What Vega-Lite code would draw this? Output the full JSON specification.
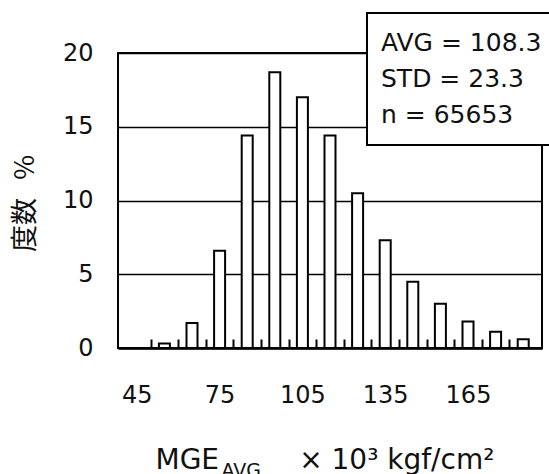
{
  "$schema": "https://vega.github.io/schema/vega-lite/v6.json",
  "width": 424,
  "height": 295,
  "autosize": {"type": "none"},
  "padding": {"left": 118, "top": 53, "right": 7, "bottom": 126},
  "background": "white",
  "config": {
    "view": {"stroke": "black", "strokeWidth": 2},
    "font": "DejaVu Sans",
    "legend": {"strokeWidth": 2}
  },
  "datasets": {
    "bins": [
      {"mge": 55, "pct": 0.3},
      {"mge": 65, "pct": 1.7},
      {"mge": 75, "pct": 6.6},
      {"mge": 85, "pct": 14.4},
      {"mge": 95, "pct": 18.7},
      {"mge": 105, "pct": 17.0},
      {"mge": 115, "pct": 14.4},
      {"mge": 125, "pct": 10.5},
      {"mge": 135, "pct": 7.3},
      {"mge": 145, "pct": 4.5},
      {"mge": 155, "pct": 3.0},
      {"mge": 165, "pct": 1.8},
      {"mge": 175, "pct": 1.1},
      {"mge": 185, "pct": 0.6}
    ],
    "stats": [
      {"stat": "AVG = 108.3"},
      {"stat": "STD = 23.3"},
      {"stat": "n = 65653"}
    ]
  },
  "layer": [
    {
      "data": {"name": "bins"},
      "mark": {"type": "bar", "fill": "white", "stroke": "black", "strokeWidth": 2, "width": 11},
      "encoding": {
        "x": {
          "field": "mge",
          "type": "quantitative",
          "scale": {"domain": [40, 190], "nice": false, "zero": false},
          "axis": {
            "orient": "bottom",
            "values": [45, 50, 60, 70, 75, 80, 90, 100, 105, 110, 120, 130, 135, 140, 150, 160, 165, 170, 180],
            "labelExpr": "datum.value % 10 == 0 ? '' : datum.label",
            "labelFont": "DejaVu Sans",
            "labelFontSize": 24,
            "labelColor": "#111111",
            "labelPadding": 44,
            "labelOverlap": false,
            "labelFlush": false,
            "ticks": true,
            "tickSize": -9,
            "tickWidth": 2,
            "tickColor": "black",
            "tickOpacity": {"condition": {"test": "datum.value % 10 != 0", "value": 0}, "value": 1},
            "domain": true,
            "domainColor": "black",
            "domainWidth": 2.5,
            "grid": false,
            "title": "MGE\u00a0\u00a0\u00a0\u00a0\u00a0\u00a0\u00a0\u00a0\u00a0× 10³ kgf/cm²",
            "titleFont": "DejaVu Sans",
            "titleFontSize": 28,
            "titleFontWeight": "normal",
            "titleColor": "#111111",
            "titleAlign": "left",
            "titleX": 37,
            "titleY": 120,
            "titleBaseline": "alphabetic"
          }
        },
        "y": {
          "field": "pct",
          "type": "quantitative",
          "scale": {"domain": [0, 20], "nice": false},
          "axis": {
            "values": [0, 5, 10, 15, 20],
            "grid": true,
            "gridColor": "black",
            "gridWidth": 1.5,
            "ticks": false,
            "tickSize": 0,
            "domain": false,
            "labelFont": "DejaVu Sans",
            "labelFontSize": 24,
            "labelPadding": 25,
            "labelColor": "#111111",
            "title": "度数\u00a0\u00a0\u00a0%",
            "titleFont": "Noto Sans CJK JP",
            "titleFontSize": 27,
            "titleFontWeight": "normal",
            "titleColor": "#111111",
            "titleAngle": -90,
            "titleX": -93,
            "titleY": 150,
            "titleAlign": "center",
            "titleBaseline": "middle"
          }
        }
      }
    },
    {
      "data": {"name": "bins"},
      "mark": {"type": "point", "opacity": 0},
      "encoding": {
        "x": {
          "field": "mge",
          "type": "quantitative",
          "axis": {
            "orient": "bottom",
            "labels": false,
            "ticks": false,
            "domain": false,
            "grid": false,
            "title": "AVG",
            "titleFont": "DejaVu Sans",
            "titleFontSize": 19,
            "titleFontWeight": "normal",
            "titleColor": "#111111",
            "titleAlign": "left",
            "titleX": 103,
            "titleY": 128,
            "titleBaseline": "alphabetic"
          }
        }
      }
    },
    {
      "data": {"name": "stats"},
      "mark": {"type": "point", "opacity": 0},
      "encoding": {
        "color": {
          "field": "stat",
          "type": "nominal",
          "scale": {"domain": ["AVG = 108.3", "STD = 23.3", "n = 65653"], "range": ["black", "black", "black"]},
          "legend": {
            "orient": "none",
            "legendX": 249,
            "legendY": -40,
            "title": null,
            "labelFont": "DejaVu Sans",
            "labelFontSize": 25,
            "labelColor": "#111111",
            "labelLimit": 0,
            "labelOffset": -28,
            "symbolSize": 0,
            "symbolOpacity": 0,
            "symbolStrokeWidth": 0,
            "rowPadding": 10,
            "padding": 17,
            "fillColor": "white",
            "strokeColor": "black"
          }
        }
      }
    }
  ],
  "resolve": {"axis": {"x": "independent"}}
}
